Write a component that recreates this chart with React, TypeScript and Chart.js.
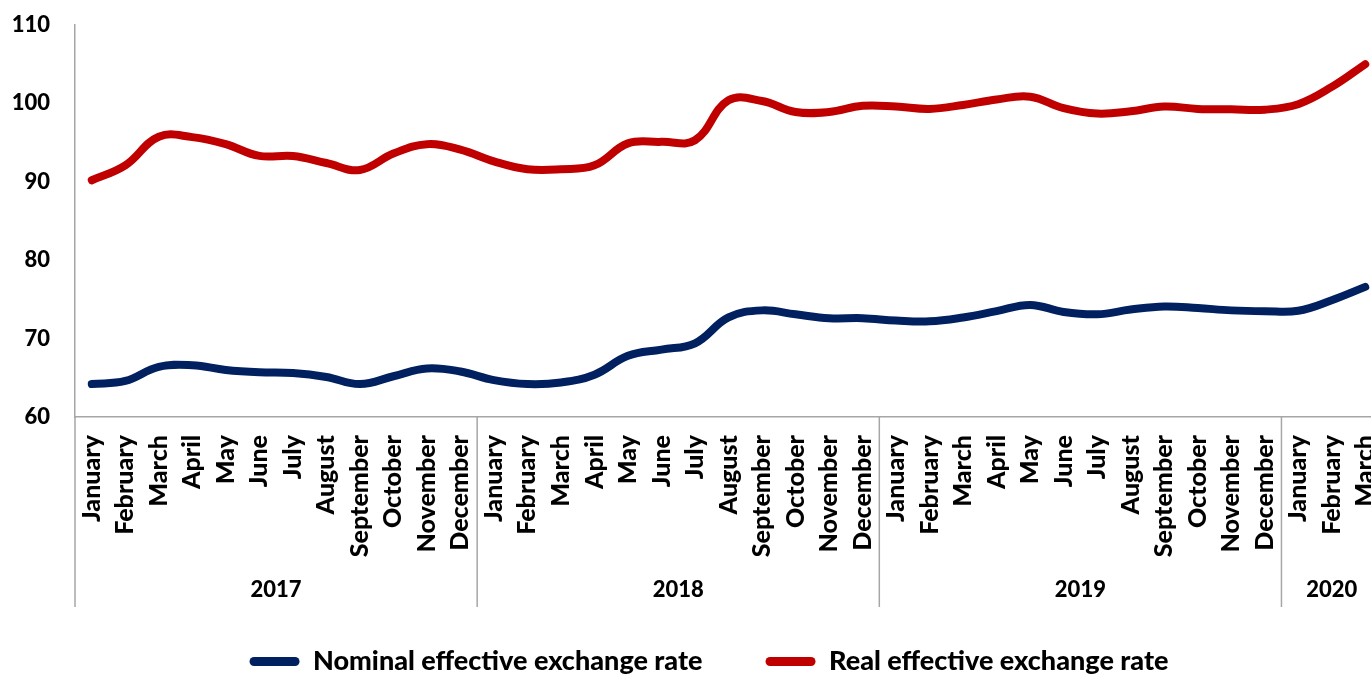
import React, { useEffect, useRef } from "react";
import { Chart, registerables } from "chart.js";

Chart.register(...registerables);

const monthNames = [
  "January", "February", "March", "April", "May", "June",
  "July", "August", "September", "October", "November", "December",
];
const years = ["2017", "2018", "2019", "2020"];
const monthsPerYear = [12, 12, 12, 3];

const nominal = [
  64.2, 64.6, 66.4, 66.6, 66.0, 65.7, 65.6, 65.1, 64.2, 65.2, 66.2, 65.8,
  64.7, 64.2, 64.4, 65.4, 67.8, 68.6, 69.4, 72.7, 73.6, 73.1, 72.6, 72.6,
  72.3, 72.2, 72.7, 73.5, 74.3, 73.4, 73.1, 73.7, 74.1, 73.9, 73.6, 73.5,
  73.55, 74.9, 76.6,
];
const real = [
  90.2, 92.1, 95.75, 95.7, 94.8, 93.3, 93.3, 92.4, 91.5, 93.6, 94.8, 94.1,
  92.6, 91.6, 91.6, 92.1, 94.9, 95.1, 95.3, 100.4, 100.3, 98.9, 98.9, 99.7,
  99.6, 99.3, 99.8, 100.5, 100.85, 99.4, 98.7, 99.0, 99.6, 99.3, 99.25, 99.2,
  99.9, 102.1, 105.0,
];
const yTicks = { min: 60, max: 110, step: 10 };

const seriesNames = ["Nominal effective exchange rate", "Real effective exchange rate"];
const seriesColors = ["#002060", "#C00000"];

const FONT = "Lato, 'Noto Sans', sans-serif";
const WEIGHT = 900;
const AXIS_COLOR = "#a6a6a6";

const labels: string[] = [];
monthsPerYear.forEach((n) => {
  for (let i = 0; i < n; i++) labels.push(monthNames[i]);
});

const yearGroupPlugin = {
  id: "yearGroups",
  afterDraw(chart: any) {
    const xs = chart.scales.x;
    const area = chart.chartArea;
    const ctx = chart.ctx;
    const groupBottom = area.bottom + 190;
    ctx.save();
    ctx.strokeStyle = AXIS_COLOR;
    ctx.lineWidth = 1.5;
    let start = 0;
    years.forEach((yr, i) => {
      const n = monthsPerYear[i];
      const left = xs.getPixelForValue(start - 0.5);
      const right = xs.getPixelForValue(start + n - 0.5);
      ctx.beginPath();
      ctx.moveTo(left, area.bottom);
      ctx.lineTo(left, groupBottom);
      ctx.stroke();
      if (i === years.length - 1) {
        ctx.beginPath();
        ctx.moveTo(right, area.bottom);
        ctx.lineTo(right, groupBottom);
        ctx.stroke();
      }
      const cx = xs.getPixelForValue(start + (n - 1) / 2);
      ctx.fillStyle = "#000";
      ctx.font = `${WEIGHT} 22px ${FONT}`;
      ctx.textAlign = "center";
      ctx.textBaseline = "middle";
      ctx.fillText(yr, cx, area.bottom + 173);
      start += n;
    });
    ctx.restore();
  },
};

export default function App() {
  const ref = useRef<HTMLCanvasElement | null>(null);

  useEffect(() => {
    if (!ref.current) return;
    const chart = new Chart(ref.current, {
      type: "line",
      data: {
        labels,
        datasets: [
          {
            label: seriesNames[0],
            data: nominal,
            borderColor: seriesColors[0],
            backgroundColor: seriesColors[0],
            borderWidth: 8,
            pointRadius: 0,
            tension: 0.4,
            borderCapStyle: "round",
            borderJoinStyle: "round",
            fill: false,
          },
          {
            label: seriesNames[1],
            data: real,
            borderColor: seriesColors[1],
            backgroundColor: seriesColors[1],
            borderWidth: 8,
            pointRadius: 0,
            tension: 0.4,
            borderCapStyle: "round",
            borderJoinStyle: "round",
            fill: false,
          },
        ],
      },
      options: {
        animation: false,
        responsive: false,
        layout: { padding: { top: 25, left: 0, right: 0, bottom: 0 } },
        plugins: {
          tooltip: { enabled: false },
          legend: {
            position: "bottom",
            labels: {
              color: "#000",
              font: { family: FONT, size: 27, weight: WEIGHT },
              boxWidth: 50,
              boxHeight: 9,
              padding: 63,
              useBorderRadius: true,
              borderRadius: 4.5,
              generateLabels: (c: any) =>
                Chart.defaults.plugins.legend.labels
                  .generateLabels(c)
                  .map((l: any) => ({ ...l, fillStyle: l.strokeStyle, lineWidth: 0, borderRadius: 4.5 })),
            },
          },
        },
        scales: {
          x: {
            type: "category",
            offset: true,
            grid: { display: false, drawTicks: false },
            border: { display: true, color: AXIS_COLOR, width: 1.5 },
            ticks: {
              autoSkip: false,
              minRotation: 90,
              maxRotation: 90,
              padding: 18,
              color: "#000",
              font: { family: FONT, size: 25, weight: WEIGHT },
            },
            afterFit: (s: any) => {
              s.height = 168;
            },
          },
          y: {
            min: yTicks.min,
            max: yTicks.max,
            grid: { display: false, drawTicks: true, tickLength: 22 },
            border: { display: true, color: AXIS_COLOR, width: 1.5 },
            ticks: {
              stepSize: yTicks.step,
              padding: 3,
              color: "#000",
              font: { family: FONT, size: 22, weight: WEIGHT },
            },
            afterFit: (s: any) => {
              s.width = 75;
            },
          },
          y2: {
            position: "right",
            display: true,
            grid: { display: false, drawTicks: false },
            border: { display: false },
            ticks: { display: false },
            afterFit: (s: any) => {
              s.width = 36;
            },
          },
        },
      },
      plugins: [yearGroupPlugin],
    } as any);
    return () => chart.destroy();
  }, []);

  return (
    <div
      style={{
        position: "fixed",
        left: 0,
        top: 0,
        width: 1371,
        height: 675,
        overflow: "hidden",
        background: "#fff",
      }}
    >
      <canvas ref={ref} width={1418} height={685} style={{ display: "block" }} />
    </div>
  );
}
